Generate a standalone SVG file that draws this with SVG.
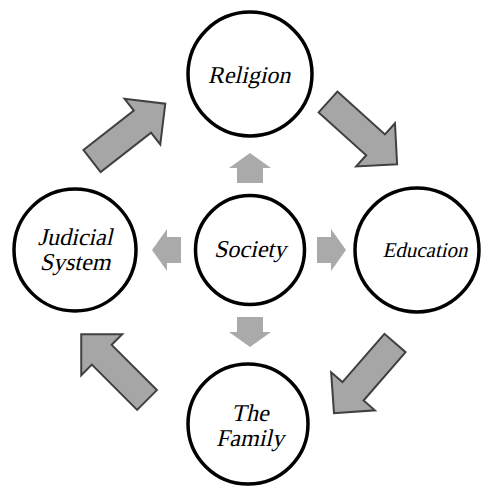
<svg xmlns="http://www.w3.org/2000/svg" width="488" height="488" viewBox="0 0 488 488">
<style>
.node{fill:#fff;stroke:#000;stroke-width:3.5}
.lbl{font-size:24px;fill:#000;text-anchor:middle}
.big{fill:#a6a6a6;stroke:#404040;stroke-width:2;stroke-linejoin:miter}
.small{fill:#aaaaaa}
</style>
<defs>
<path id="bigArrow" d="M0,-14 L64,-14 L64,-29 L93,0 L64,29 L64,14 L0,14 Z"/>
</defs>
<rect width="488" height="488" fill="#fff"/>
<g id="connectors">
<use href="#bigArrow" class="big" transform="translate(92,161) rotate(-38)"/>
<use href="#bigArrow" class="big" transform="translate(328,102) rotate(42)"/>
<use href="#bigArrow" class="big" transform="translate(395,343) rotate(131)"/>
<use href="#bigArrow" class="big" transform="translate(147,400) rotate(-135)"/>
<path class="small" d="M237,183 L237,168 L229,168 L250,153 L271,168 L263,168 L263,183 Z"/>
<path class="small" d="M237,317 L237,332 L229,332 L250,347 L271,332 L263,332 L263,317 Z"/>
<path class="small" d="M181,237 L167,237 L167,229 L152,250 L167,271 L167,263 L181,263 Z"/>
<path class="small" d="M317,237 L331,237 L331,229 L346,250 L331,271 L331,263 L317,263 Z"/>
</g>
<g id="religion">
<circle class="node" cx="250" cy="74" r="62"/>
<g transform="translate(249,83) skewX(-13)"><text class="lbl" style="font-family:'Liberation Serif'" x="0" y="0">Religion</text></g>
</g>
<g id="education">
<circle class="node" cx="417" cy="250" r="62"/>
<g transform="translate(425,257) skewX(-13)"><text class="lbl" style="font-family:'Liberation Serif';font-size:21px" x="0" y="0">Education</text></g>
</g>
<g id="family">
<circle class="node" cx="248" cy="424" r="60"/>
<g transform="translate(250,421) skewX(-13)"><text class="lbl" style="font-family:'Liberation Serif'" x="0" y="0">The</text></g>
<g transform="translate(250,446) skewX(-13)"><text class="lbl" style="font-family:'Liberation Serif'" x="0" y="0">Family</text></g>
</g>
<g id="judicial">
<circle class="node" cx="75" cy="250" r="61"/>
<g transform="translate(75,245) skewX(-13)"><text class="lbl" style="font-family:'Liberation Serif'" x="0" y="0">Judicial</text></g>
<g transform="translate(75,270) skewX(-13)"><text class="lbl" style="font-family:'Liberation Serif'" x="0" y="0">System</text></g>
</g>
<g id="society">
<circle class="node" cx="250" cy="250" r="54.5"/>
<g transform="translate(250,257) skewX(-13)"><text class="lbl" style="font-family:'Liberation Serif'" x="0" y="0">Society</text></g>
</g>
</svg>
